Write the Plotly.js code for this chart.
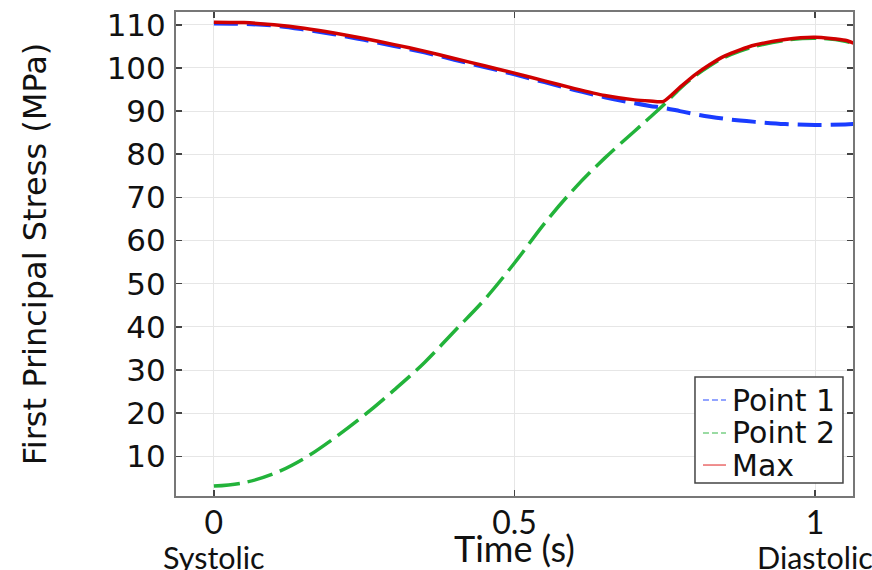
<!DOCTYPE html>
<html>
<head>
<meta charset="utf-8">
<script src="https://cdn.plot.ly/plotly-3.0.1.min.js"></script>
<style>html,body{margin:0;padding:0;background:#fff;}#chart{width:872px;height:570px;}</style>
</head>
<body>
<div id="chart"></div>
<script>
// Time (s)
var time = [0, 0.05, 0.1, 0.15, 0.2, 0.25, 0.3, 0.35, 0.4, 0.45, 0.5, 0.55, 0.6, 0.65, 0.7, 0.725, 0.75, 0.775, 0.8, 0.825, 0.85, 0.875, 0.9, 0.95, 1.0, 1.05, 1.065];
// First principal stress (MPa)
var point1 = [110.3, 110.2, 109.8, 108.9, 107.8, 106.5, 105.1, 103.6, 101.9, 100.2, 98.5, 96.7, 94.9, 93.2, 91.8, 91.2, 90.7, 90.0, 89.3, 88.7, 88.2, 87.8, 87.5, 87.0, 86.8, 86.9, 87.0];
var point2 = [3.1, 3.9, 6.0, 9.5, 14.2, 19.5, 25.4, 31.7, 39.0, 46.3, 54.8, 64.0, 72.1, 79.1, 85.4, 88.5, 91.7, 95.2, 98.1, 100.5, 102.5, 103.9, 105.0, 106.4, 106.9, 106.2, 105.6];
var maxTime = [0, 0.05, 0.1, 0.15, 0.2, 0.25, 0.3, 0.35, 0.4, 0.45, 0.5, 0.55, 0.6, 0.65, 0.7, 0.725, 0.747, 0.775, 0.8, 0.825, 0.85, 0.875, 0.9, 0.95, 1.0, 1.05, 1.065];
var maxStress = [110.6, 110.5, 110.0, 109.2, 108.1, 106.8, 105.4, 103.9, 102.2, 100.5, 98.8, 97.0, 95.2, 93.6, 92.6, 92.35, 92.2, 95.5, 98.4, 100.8, 102.8, 104.2, 105.3, 106.6, 107.1, 106.4, 105.7];

var seriesNames = ["Point 1", "Point 2", "Max"];
var xTickVals = [0, 0.5, 1];
var xTickText = ["0", "0.5", "1"];
var phaseLabels = ["Systolic", "Diastolic"];
var phaseTimes = [0, 1];

var blue = "#1a3cff", green = "#22b33a", red = "#d00000";
var legendColors = ["#6f86ff", "#79d085", "#ea6a6a"];
var legendDash = ["6px,3px", "6px,3px", "solid"];

var traces = [
  {x: time, y: point1, mode: "lines", name: seriesNames[0], showlegend: false, hoverinfo: "skip",
   line: {color: blue, width: 4, dash: "24px,9px", shape: "spline", smoothing: 1}},
  {x: time, y: point2, mode: "lines", name: seriesNames[1], showlegend: false, hoverinfo: "skip",
   line: {color: green, width: 3.5, dash: "26px,8px", shape: "spline", smoothing: 1}},
  {x: maxTime, y: maxStress, mode: "lines", name: seriesNames[2], showlegend: false, hoverinfo: "skip",
   line: {color: red, width: 3.5, shape: "spline", smoothing: 0.6}}
];

var latoFont = "Lato, 'Open Sans', sans-serif";
var annotations = phaseLabels.map(function(t, i){
  return {text: t, x: phaseTimes[i], xref: "x", y: -0.126, yref: "paper",
          xanchor: "center", yanchor: "middle", showarrow: false,
          font: {family: latoFont, size: 30.5, color: "#111"}};
});

// legend box drawn in the lower-right corner of the plot
var legX0 = 0.7666, legX1 = 0.9852, legY0 = 0.0269, legY1 = 0.2459;
var rowY = [0.1983, 0.1302, 0.0640];
var shapes = [{type: "rect", xref: "paper", yref: "paper", x0: legX0, x1: legX1, y0: legY0, y1: legY1,
               line: {color: "#444", width: 1.5}, fillcolor: "#fff", layer: "above"}];
seriesNames.forEach(function(n, i){
  shapes.push({type: "line", xref: "paper", yref: "paper", x0: 0.7784, x1: 0.8124, y0: rowY[i], y1: rowY[i],
               line: {color: legendColors[i], width: 1.5, dash: legendDash[i]}, layer: "above"});
  annotations.push({text: n, xref: "paper", yref: "paper", x: 0.8183, y: rowY[i],
                    xanchor: "left", yanchor: "middle", showarrow: false,
                    font: {family: "DejaVu Sans, sans-serif", size: 30, color: "#111"}});
});

var layout = {
  width: 872, height: 570,
  margin: {l: 176, r: 19, t: 12, b: 74, pad: 0},
  paper_bgcolor: "#fff", plot_bgcolor: "#fff",
  font: {family: "DejaVu Sans, sans-serif", color: "#111"},
  xaxis: {
    range: [-0.063, 1.063], tickvals: xTickVals, ticktext: xTickText,
    ticks: "inside", ticklen: 6, tickwidth: 1.5, tickcolor: "#444",
    showline: true, linecolor: "#777", linewidth: 2, mirror: "ticks",
    showgrid: true, gridcolor: "#e6e6e6", gridwidth: 1, zeroline: false,
    tickfont: {family: latoFont, size: 32, color: "#111"},
    ticklabelstandoff: -2,
    automargin: false,
    title: {text: "Time (s)", standoff: 1, font: {family: latoFont, size: 36, color: "#111"}}
  },
  yaxis: {
    range: [0.81, 112.96], tick0: 10, dtick: 10,
    ticks: "inside", ticklen: 6, tickwidth: 1.5, tickcolor: "#444",
    showline: true, linecolor: "#777", linewidth: 2, mirror: "ticks",
    showgrid: true, gridcolor: "#e6e6e6", gridwidth: 1, zeroline: false,
    tickfont: {family: "DejaVu Sans, sans-serif", size: 31, color: "#111"},
    ticklabelstandoff: 2,
    automargin: false,
    title: {text: "First Principal Stress (MPa)", standoff: 50, font: {family: "DejaVu Sans, sans-serif", size: 32, color: "#111"}}
  },
  shapes: shapes,
  annotations: annotations,
  showlegend: false
};

Plotly.newPlot("chart", traces, layout, {staticPlot: true, displayModeBar: false});
</script>
</body>
</html>
